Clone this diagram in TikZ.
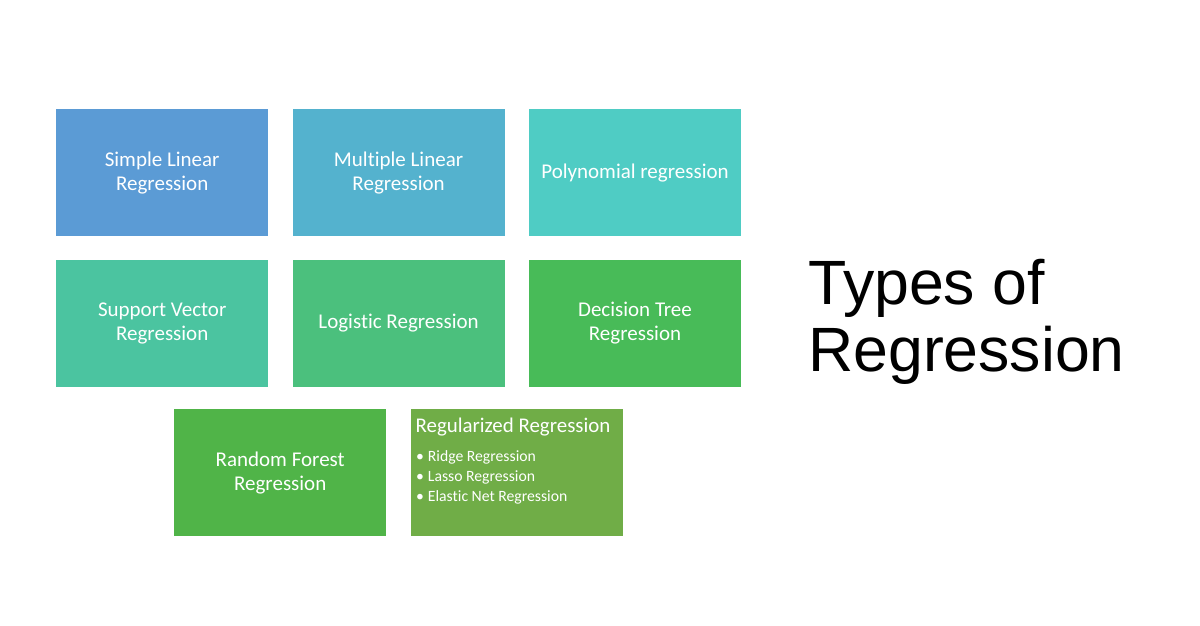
\documentclass[tikz,border=0pt]{standalone}
\usepackage{fontspec}
\setmainfont{Carlito}[Ligatures={NoCommon}]
\newfontfamily\titlefont{Liberation Sans}
\usetikzlibrary{positioning, calc}
\definecolor{rgBlue}{RGB}{91,155,213}
\definecolor{rgCyan}{RGB}{84,178,206}
\definecolor{rgTeal}{RGB}{79,204,196}
\definecolor{rgSea}{RGB}{75,196,160}
\definecolor{rgMint}{RGB}{75,192,125}
\definecolor{rgGreen}{RGB}{72,187,88}
\definecolor{rgLeaf}{RGB}{80,180,72}
\definecolor{rgOlive}{RGB}{112,173,71}

\begin{document}
\begin{tikzpicture}[
    x=1pt, y=1pt,
    box/.style={minimum width=212pt, minimum height=127pt, inner sep=0pt,
                align=center, text=white,
                font=\fontsize{21}{24}\selectfont},
    listtext/.style={anchor=north west, inner sep=0pt, align=left, text=white},
    title/.style={anchor=north west, inner sep=0pt, align=left,
                  font=\titlefont\fontsize{62.6}{67}\selectfont}
]
\useasboundingbox[fill=white] (0,0) rectangle (1200,-626);

% top row
\node[box, fill=rgBlue, anchor=north west] (slr) at (56,-109) {Simple Linear\\Regression};
\node[box, fill=rgCyan, right=24pt of slr] (mlr) {Multiple Linear\\Regression};
\node[box, fill=rgTeal, right=24pt of mlr] (poly) {Polynomial regression};

% middle row
\node[box, fill=rgSea, below=23pt of slr] (svr) {Support Vector\\Regression};
\node[box, fill=rgMint, right=24pt of svr] (logit) {Logistic Regression};
\node[box, fill=rgGreen, right=24pt of logit] (tree) {Decision Tree\\Regression};

% bottom row
\node[box, fill=rgLeaf, anchor=north west] (forest) at (174,-409) {Random Forest\\Regression};
\node[box, fill=rgOlive, right=24pt of forest] (reg) {};
\node[listtext, font=\fontsize{20.9}{22}\selectfont] (reghead)
  at ($(reg.north west)+(5,-8.5)$) {Regularized Regression};
\node[listtext, font=\fontsize{15.7}{20}\selectfont] (reglist)
  at ($(reghead.south west)+(0.5,-14.5)$) {%
  \textbullet\hspace{4pt}Ridge Regression\\
  \textbullet\hspace{4pt}Lasso Regression\\
  \textbullet\hspace{4pt}Elastic Net Regression};

% heading on the right
\node[title] (types) at (808,-259) {Types of\\Regression};

\end{tikzpicture}
\end{document}
